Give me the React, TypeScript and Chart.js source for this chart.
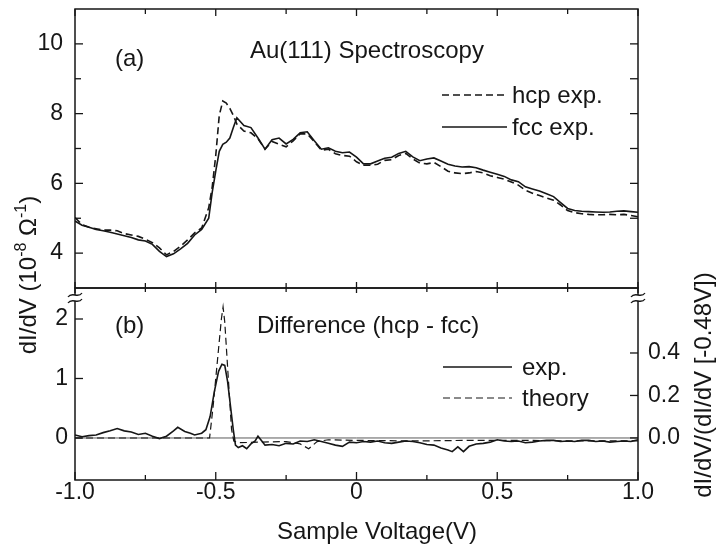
import { useEffect, useRef } from 'react';
import { Chart, registerables } from 'chart.js';

Chart.register(...registerables);

const FONT = '"Liberation Sans", Arial, Helvetica, sans-serif';
const INK = '#161616';

// ---------- top panel (a): dI/dV spectra ----------
const topVoltage = [
  -1.0, -0.975, -0.95, -0.925, -0.9, -0.875, -0.85, -0.825, -0.8, -0.775,
  -0.75, -0.725, -0.7, -0.675, -0.65, -0.625, -0.6, -0.575, -0.55, -0.525,
  -0.5125, -0.5, -0.4875, -0.475, -0.4625, -0.45, -0.4375, -0.425, -0.4, -0.375,
  -0.35, -0.325, -0.3, -0.275, -0.25, -0.225, -0.2, -0.175, -0.15, -0.125,
  -0.1, -0.075, -0.05, -0.025, 0, 0.025, 0.05, 0.075, 0.1, 0.125,
  0.15, 0.175, 0.2, 0.225, 0.25, 0.275, 0.3, 0.325, 0.35, 0.375,
  0.4, 0.425, 0.45, 0.475, 0.5, 0.525, 0.55, 0.575, 0.6, 0.625,
  0.65, 0.675, 0.7, 0.725, 0.75, 0.775, 0.8, 0.825, 0.85, 0.875,
  0.9, 0.925, 0.95, 0.975, 1.0,
];

const hcpExp = [
  5.02, 4.82, 4.74, 4.70, 4.66, 4.66, 4.64, 4.56, 4.52, 4.48,
  4.40, 4.30, 4.15, 3.95, 4.05, 4.20, 4.38, 4.58, 4.72, 5.30,
  5.90, 6.80, 7.95, 8.36, 8.30, 8.15, 7.95, 7.70, 7.50, 7.45,
  7.28, 6.98, 7.20, 7.12, 7.05, 7.22, 7.42, 7.42, 7.20, 6.95,
  6.98, 6.85, 6.80, 6.78, 6.62, 6.52, 6.52, 6.55, 6.66, 6.68,
  6.80, 6.86, 6.70, 6.58, 6.56, 6.60, 6.48, 6.35, 6.30, 6.28,
  6.30, 6.34, 6.30, 6.22, 6.17, 6.12, 6.04, 5.95, 5.80, 5.72,
  5.65, 5.58, 5.52, 5.38, 5.22, 5.16, 5.13, 5.11, 5.10, 5.10,
  5.11, 5.10, 5.11, 5.08, 5.04,
];

const fccExp = [
  4.92, 4.80, 4.74, 4.68, 4.64, 4.60, 4.55, 4.50, 4.45, 4.38,
  4.35, 4.25, 4.05, 3.90, 3.98, 4.12, 4.28, 4.52, 4.68, 5.00,
  5.75, 6.35, 6.92, 7.12, 7.18, 7.30, 7.60, 7.88, 7.66, 7.60,
  7.30, 6.98, 7.25, 7.30, 7.13, 7.26, 7.45, 7.48, 7.22, 6.98,
  7.02, 6.92, 6.88, 6.90, 6.75, 6.56, 6.56, 6.64, 6.72, 6.75,
  6.86, 6.92, 6.76, 6.65, 6.70, 6.73, 6.64, 6.55, 6.50, 6.47,
  6.48, 6.45, 6.38, 6.32, 6.26, 6.20, 6.10, 6.05, 5.90, 5.84,
  5.78, 5.70, 5.62, 5.45, 5.28, 5.22, 5.20, 5.19, 5.18, 5.17,
  5.18, 5.20, 5.21, 5.19, 5.17,
];

// ---------- bottom panel (b): difference ----------
const diffVoltage = [
  -1.0, -0.975, -0.95, -0.925, -0.9, -0.875, -0.85, -0.825, -0.8, -0.775,
  -0.75, -0.725, -0.7, -0.675, -0.65, -0.635, -0.61, -0.59, -0.575, -0.55,
  -0.535, -0.52, -0.505, -0.49, -0.478, -0.468, -0.458, -0.448, -0.438, -0.43,
  -0.42, -0.405, -0.39, -0.375, -0.36, -0.35, -0.335, -0.325, -0.3, -0.275,
  -0.25, -0.225, -0.2, -0.175, -0.15, -0.125, -0.1, -0.075, -0.05, -0.025,
  0, 0.025, 0.05, 0.075, 0.1, 0.125, 0.15, 0.175, 0.2, 0.225,
  0.25, 0.275, 0.3, 0.325, 0.34, 0.36, 0.38, 0.4, 0.425, 0.45,
  0.475, 0.5, 0.525, 0.55, 0.575, 0.6, 0.625, 0.65, 0.675, 0.7,
  0.725, 0.75, 0.775, 0.8, 0.825, 0.85, 0.875, 0.9, 0.925, 0.95,
  0.975, 1.0,
];

const diffExp = [
  0.05, 0.02, 0.04, 0.05, 0.09, 0.12, 0.16, 0.12, 0.10, 0.06,
  0.08, 0.03, -0.01, 0.03, 0.12, 0.18, 0.11, 0.08, 0.05, 0.08,
  0.14, 0.36, 0.78, 1.12, 1.24, 1.22, 0.95, 0.55, 0.15, -0.12,
  -0.16, -0.13, -0.18, -0.10, -0.05, 0.03, -0.06, -0.12, -0.11, -0.13,
  -0.09, -0.10, -0.05, -0.06, -0.03, -0.06, -0.09, -0.12, -0.14, -0.07,
  -0.08, -0.06, -0.07, -0.05, -0.08, -0.09, -0.07, -0.05, -0.06, -0.08,
  -0.11, -0.12, -0.17, -0.20, -0.23, -0.15, -0.23, -0.14, -0.10, -0.09,
  -0.07, -0.03, -0.05, -0.06, -0.05, -0.08, -0.07, -0.05, -0.04, -0.04,
  -0.06, -0.05, -0.06, -0.04, -0.04, -0.06, -0.05, -0.07, -0.06, -0.05,
  -0.06, -0.03,
];

const theoryVoltage = [
  -1.0, -0.55, -0.522, -0.51, -0.5, -0.49, -0.48, -0.474, -0.468, -0.46,
  -0.452, -0.444, -0.436, -0.42, -0.35, -0.25, -0.2, -0.17, -0.14, -0.1,
  0, 0.2, 0.4, 0.6, 0.8, 1.0,
];

const theoryDiff = [
  0, 0, 0, 0.5, 1.0, 1.5, 2.0, 2.2, 1.95, 1.35,
  0.75, 0.15, -0.05, -0.08, -0.07, -0.06, -0.1, -0.18, -0.06, -0.03,
  -0.04, -0.05, -0.04, -0.04, -0.05, -0.05,
];

// ---------- ticks ----------
const xMajorTicks = [-1, -0.5, 0, 0.5, 1];
const xMinorTicks = [-0.75, -0.25, 0.25, 0.75];
const topLabelTicks = [4, 6, 8, 10];
const topMinorTicks = [5, 7, 9];
const bottomLabelTicks = [0, 1, 2];
const ratioLabelTicks = [0, 0.2, 0.4];

function seg(ctx: CanvasRenderingContext2D, x1: number, y1: number, x2: number, y2: number) {
  ctx.beginPath();
  ctx.moveTo(x1, y1);
  ctx.lineTo(x2, y2);
  ctx.stroke();
}

function drawLeftTitle(ctx: CanvasRenderingContext2D) {
  const big = `24px ${FONT}`;
  const small = `16px ${FONT}`;
  const parts: any[] = [
    { t: 'dI/dV (10', f: big, dy: 0 },
    { t: '-8', f: small, dy: -10 },
    { t: ' \u03A9', f: big, dy: 0 },
    { t: '-1', f: small, dy: -10 },
    { t: ')', f: big, dy: 0 },
  ];
  let total = 0;
  parts.forEach((p) => {
    ctx.font = p.f;
    p.w = ctx.measureText(p.t).width;
    total += p.w;
  });
  ctx.save();
  ctx.translate(36, 275);
  ctx.rotate(-Math.PI / 2);
  ctx.textAlign = 'left';
  ctx.textBaseline = 'alphabetic';
  let u = -total / 2;
  parts.forEach((p) => {
    ctx.font = p.f;
    ctx.fillText(p.t, u, p.dy);
    u += p.w;
  });
  ctx.restore();
}

function drawBreak(ctx: CanvasRenderingContext2D, x: number, y: number) {
  ctx.save();
  ctx.fillStyle = '#ffffff';
  ctx.fillRect(x - 3, y - 3, 6, 6);
  ctx.strokeStyle = INK;
  ctx.lineWidth = 1.3;
  [y - 3, y + 3].forEach((yy) => {
    ctx.beginPath();
    ctx.moveTo(x - 7, yy + 2);
    ctx.bezierCurveTo(x - 3, yy - 4, x + 3, yy + 4, x + 7, yy - 2);
    ctx.stroke();
  });
  ctx.restore();
}

const topPanelPlugin = {
  id: 'topPanel',
  afterDraw(chart: any) {
    const { ctx, chartArea: a } = chart;
    const sx = chart.scales.x;
    const sy = chart.scales.y;
    ctx.save();
    ctx.strokeStyle = INK;
    ctx.fillStyle = INK;
    ctx.lineWidth = 1.5;
    ctx.strokeRect(a.left, a.top, a.right - a.left, a.bottom - a.top);
    ctx.lineWidth = 1.3;
    xMajorTicks.forEach((v) => {
      const p = sx.getPixelForValue(v);
      seg(ctx, p, a.top, p, a.top + 7);
      seg(ctx, p, a.bottom - 6, p, a.bottom + 5);
    });
    xMinorTicks.forEach((v) => {
      const p = sx.getPixelForValue(v);
      seg(ctx, p, a.top, p, a.top + 5);
      seg(ctx, p, a.bottom - 5, p, a.bottom + 4);
    });
    topLabelTicks.forEach((v) => {
      const p = sy.getPixelForValue(v);
      seg(ctx, a.left, p, a.left + 8, p);
      seg(ctx, a.right - 8, p, a.right, p);
    });
    topMinorTicks.forEach((v) => {
      const p = sy.getPixelForValue(v);
      seg(ctx, a.left, p, a.left + 6, p);
      seg(ctx, a.right - 8, p, a.right, p);
    });

    ctx.font = `24px ${FONT}`;
    ctx.textAlign = 'left';
    ctx.textBaseline = 'alphabetic';
    ctx.fillText('(a)', 115, 66);
    ctx.fillText('Au(111) Spectroscopy', 250, 58);

    const rows = [95, 127];
    chart.data.datasets.forEach((ds: any, i: number) => {
      const y = rows[i];
      ctx.save();
      ctx.lineWidth = 1.5;
      ctx.setLineDash(ds.borderDash || []);
      seg(ctx, 442, y, 507, y);
      ctx.restore();
      ctx.fillText(ds.label, 512, y + 8);
    });

    drawLeftTitle(ctx);
    ctx.restore();
  },
};

const bottomPanelPlugin = {
  id: 'bottomPanel',
  beforeDatasetsDraw(chart: any) {
    const { ctx, chartArea: a } = chart;
    const p = chart.scales.y.getPixelForValue(0);
    ctx.save();
    ctx.strokeStyle = '#5a5a5a';
    ctx.lineWidth = 1;
    seg(ctx, a.left, p, a.right, p);
    ctx.restore();
  },
  afterDraw(chart: any) {
    const { ctx, chartArea: a } = chart;
    const sx = chart.scales.x;
    const sy = chart.scales.y;
    const sr = chart.scales.yR;
    ctx.save();
    ctx.strokeStyle = INK;
    ctx.fillStyle = INK;
    ctx.lineWidth = 1.5;
    ctx.strokeRect(a.left, a.top, a.right - a.left, a.bottom - a.top);
    ctx.lineWidth = 1.3;
    xMajorTicks.forEach((v) => {
      const p = sx.getPixelForValue(v);
      seg(ctx, p, a.bottom, p, a.bottom - 8);
    });
    xMinorTicks.forEach((v) => {
      const p = sx.getPixelForValue(v);
      seg(ctx, p, a.bottom, p, a.bottom - 5);
    });
    bottomLabelTicks.forEach((v) => {
      const p = sy.getPixelForValue(v);
      seg(ctx, a.left, p, a.left + 8, p);
    });
    ratioLabelTicks.forEach((v) => {
      const p = sr.getPixelForValue(v);
      seg(ctx, a.right - 8, p, a.right, p);
    });

    ctx.font = `24px ${FONT}`;
    ctx.textAlign = 'left';
    ctx.textBaseline = 'alphabetic';
    ctx.fillText('(b)', 115, 333);
    ctx.fillText('Difference (hcp - fcc)', 257, 333);

    const rows = [367, 398];
    chart.data.datasets.forEach((ds: any, i: number) => {
      const y = rows[i];
      ctx.save();
      ctx.lineWidth = ds.borderWidth;
      ctx.setLineDash(ds.borderDash || []);
      seg(ctx, 443, y, 512, y);
      ctx.restore();
      ctx.fillText(ds.label, 522, y + 8);
    });

    ctx.textAlign = 'center';
    ctx.fillText('Sample Voltage(V)', 377, 539);

    ctx.save();
    ctx.translate(711, 385);
    ctx.rotate(-Math.PI / 2);
    ctx.textAlign = 'center';
    ctx.fillText('dI/dV/(dI/dV [-0.48V])', 0, 0);
    ctx.restore();

    drawBreak(ctx, a.left, 298);
    drawBreak(ctx, a.right, 298);
    ctx.restore();
  },
};

function fixedWidth(w: number) {
  return (s: any) => {
    s.width = w;
    s.paddingTop = 0;
    s.paddingBottom = 0;
  };
}

function setTicks(values: number[]) {
  return (s: any) => {
    s.ticks = values.map((v) => ({ value: v }));
  };
}

export default function App() {
  const topRef = useRef<HTMLCanvasElement>(null);
  const botRef = useRef<HTMLCanvasElement>(null);

  useEffect(() => {
    Chart.defaults.font.family = FONT;
    Chart.defaults.color = INK;

    const tickFont = { size: 23, lineHeight: 1 };

    const top = new Chart(topRef.current as HTMLCanvasElement, {
      type: 'line',
      data: {
        datasets: [
          {
            label: 'hcp exp.',
            data: topVoltage.map((x, i) => ({ x, y: hcpExp[i] })),
            borderColor: INK,
            borderWidth: 1.6,
            borderDash: [7, 4],
            pointRadius: 0,
            tension: 0,
          },
          {
            label: 'fcc exp.',
            data: topVoltage.map((x, i) => ({ x, y: fccExp[i] })),
            borderColor: INK,
            borderWidth: 1.6,
            pointRadius: 0,
            tension: 0,
          },
        ],
      },
      options: {
        animation: false,
        responsive: false,
        devicePixelRatio: 1,
        events: [],
        layout: { padding: { top: 9, right: 80, bottom: 257, left: 0 } },
        plugins: { legend: { display: false }, tooltip: { enabled: false } },
        scales: {
          x: { type: 'linear', min: -1, max: 1, display: false },
          y: {
            type: 'linear',
            position: 'left',
            min: 3,
            max: 11,
            afterBuildTicks: setTicks(topLabelTicks),
            afterFit: fixedWidth(75),
            grid: { display: false, drawTicks: false },
            border: { display: false },
            ticks: {
              font: tickFont,
              color: INK,
              padding: 12,
              autoSkip: false,
              callback: (v: any) => String(v),
            },
          },
        },
      },
      plugins: [topPanelPlugin],
    } as any);

    const bot = new Chart(botRef.current as HTMLCanvasElement, {
      type: 'line',
      data: {
        datasets: [
          {
            label: 'exp.',
            data: diffVoltage.map((x, i) => ({ x, y: diffExp[i] })),
            borderColor: INK,
            borderWidth: 1.6,
            pointRadius: 0,
            tension: 0,
            yAxisID: 'y',
          },
          {
            label: 'theory',
            data: theoryVoltage.map((x, i) => ({ x, y: theoryDiff[i] })),
            borderColor: INK,
            borderWidth: 1.2,
            borderDash: [7, 4],
            pointRadius: 0,
            tension: 0,
            yAxisID: 'y',
          },
        ],
      },
      options: {
        animation: false,
        responsive: false,
        devicePixelRatio: 1,
        events: [],
        layout: { padding: { top: 288, right: 0, bottom: 0, left: 0 } },
        plugins: { legend: { display: false }, tooltip: { enabled: false } },
        scales: {
          x: {
            type: 'linear',
            position: 'bottom',
            min: -1,
            max: 1,
            afterBuildTicks: setTicks(xMajorTicks),
            afterFit: (s: any) => {
              s.height = 65;
              s.paddingLeft = 0;
              s.paddingRight = 0;
            },
            grid: { display: false, drawTicks: false },
            border: { display: false },
            ticks: {
              font: tickFont,
              color: INK,
              padding: 1,
              autoSkip: false,
              maxRotation: 0,
              callback: (v: any) => (v === 0 ? '0' : Number(v).toFixed(1)),
            },
          },
          y: {
            type: 'linear',
            position: 'left',
            min: -0.706,
            max: 2.521,
            afterBuildTicks: setTicks(bottomLabelTicks),
            afterFit: fixedWidth(75),
            grid: { display: false, drawTicks: false },
            border: { display: false },
            ticks: {
              font: tickFont,
              color: INK,
              padding: 7,
              autoSkip: false,
              callback: (v: any) => String(v),
            },
          },
          yR: {
            type: 'linear',
            position: 'right',
            min: -0.198,
            max: 0.706,
            afterBuildTicks: setTicks(ratioLabelTicks),
            afterFit: fixedWidth(80),
            grid: { display: false, drawTicks: false },
            border: { display: false },
            ticks: {
              font: tickFont,
              color: INK,
              padding: 10,
              autoSkip: false,
              callback: (v: any) => Number(v).toFixed(1),
            },
          },
        },
      },
      plugins: [bottomPanelPlugin],
    } as any);

    return () => {
      top.destroy();
      bot.destroy();
    };
  }, []);

  return (
    <div
      style={{
        position: 'absolute',
        left: 0,
        top: 0,
        width: 718,
        height: 545,
        background: '#ffffff',
      }}
    >
      <canvas
        ref={topRef}
        width={718}
        height={545}
        style={{ position: 'absolute', left: 0, top: 0 }}
      />
      <canvas
        ref={botRef}
        width={718}
        height={545}
        style={{ position: 'absolute', left: 0, top: 0, pointerEvents: 'none' }}
      />
    </div>
  );
}
